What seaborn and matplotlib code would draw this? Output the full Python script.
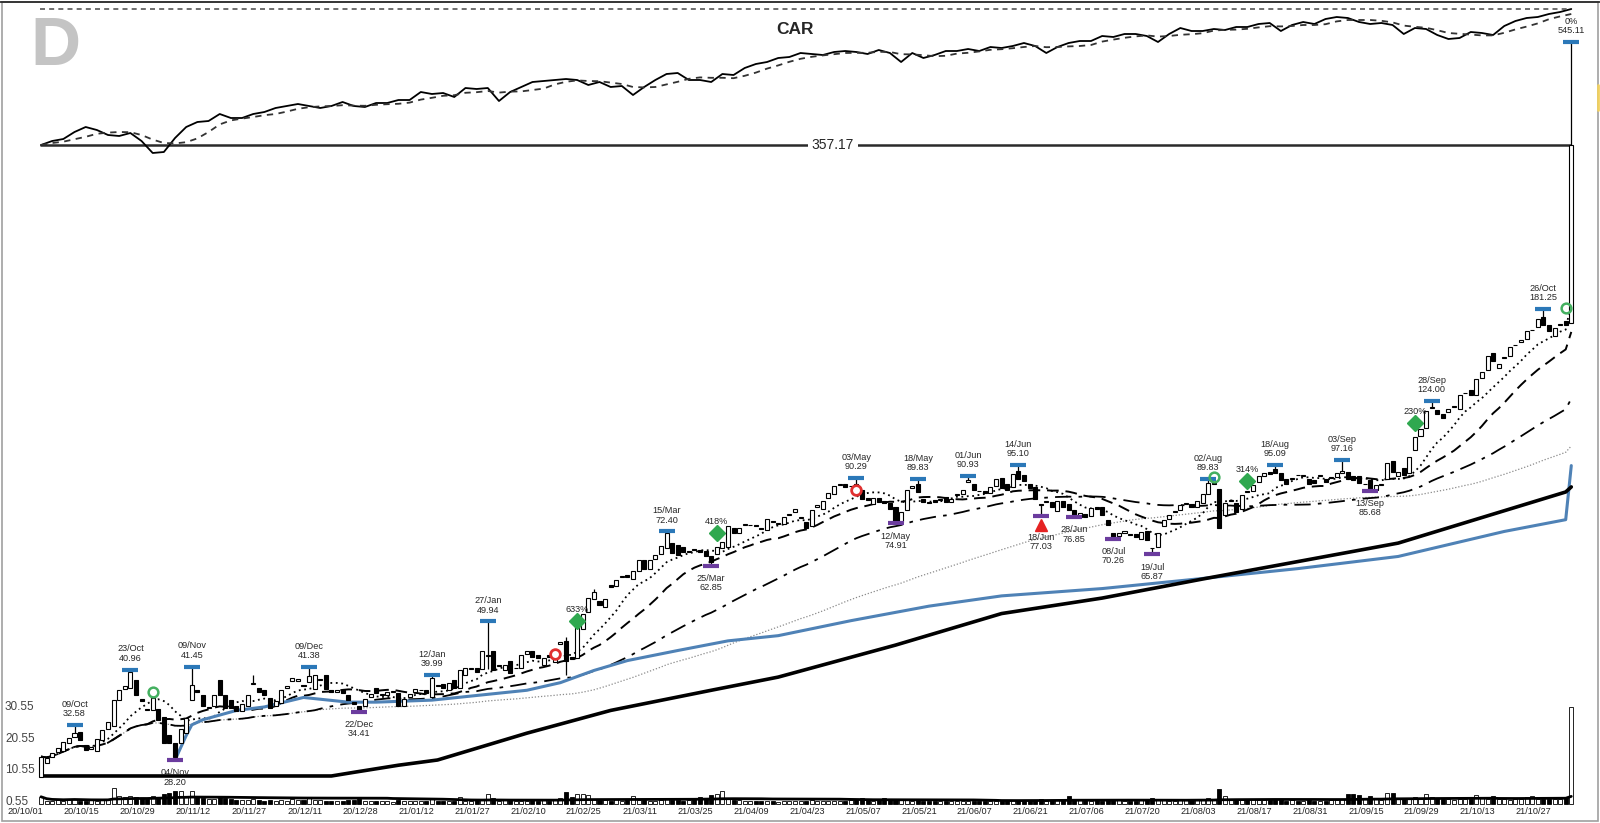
import numpy as np
import pandas as pd
import matplotlib
matplotlib.use("Agg")
import matplotlib.pyplot as plt
import matplotlib.transforms as mtrans
from matplotlib.patches import Rectangle
from matplotlib.lines import Line2D
import seaborn as sns

# ---------------- data ----------------
opens = [
    26.3, 27.8, 28.6, 29.2, 29.3, 30.3, 31.0, 31.6, 30.0, 29.5,
    29.3, 30.6, 32.0, 32.5, 36.1, 37.8, 38.0, 39.2, 36.3, 34.8,
    34.6, 34.8, 33.7, 31.2, 30.2, 30.2, 31.5, 36.1, 37.6, 36.8,
    35.0, 35.3, 39.2, 36.8, 36.1, 35.3, 34.5, 35.2, 38.6, 38.0,
    37.6, 36.4, 35.2, 35.7, 38.0, 39.0, 39.0, 38.4, 38.9, 37.8,
    39.2, 40.0, 37.6, 37.4, 37.6, 36.8, 35.8, 35.3, 35.3, 36.6,
    38.0, 36.8, 36.8, 37.3, 37.2, 35.3, 36.5, 37.4, 37.6, 37.7,
    36.5, 38.4, 38.6, 37.7, 39.2, 38.0, 40.0, 41.1, 41.2, 41.0,
    43.3, 44.3, 41.5, 40.9, 42.5, 41.2, 41.2, 43.6, 44.3, 43.4,
    41.8, 43.5, 42.3, 45.5, 46.1, 43.2, 43.0, 48.4, 52.0, 54.9,
    54.3, 53.0, 58.0, 57.8, 60.0, 60.4, 59.6, 61.4, 64.3, 61.9,
    64.5, 66.0, 67.5, 69.0, 68.5, 68.0, 66.6, 67.3, 67.0, 66.7,
    65.5, 66.0, 67.5, 68.0, 73.5, 72.0, 74.5, 74.2, 74.5, 73.5,
    72.7, 75.6, 74.8, 74.8, 77.4, 78.5, 76.5, 75.4, 74.0, 80.0,
    79.4, 83.0, 84.5, 87.6, 88.0, 87.2, 88.0, 86.0, 83.0, 81.0,
    83.0, 82.0, 81.5, 80.2, 75.4, 79.0, 86.5, 88.0, 82.6, 81.8,
    82.5, 82.4, 83.5, 81.8, 84.0, 84.5, 88.8, 88.0, 85.7, 85.5,
    85.0, 87.5, 90.2, 88.0, 87.0, 93.0, 91.5, 88.2, 87.0, 81.0,
    81.6, 81.6, 78.9, 82.0, 81.0, 79.0, 77.0, 77.8, 77.3, 80.0,
    80.2, 76.0, 72.0, 71.0, 72.0, 71.5, 71.6, 70.2, 72.4, 67.7,
    68.0, 74.0, 76.2, 78.6, 79.0, 81.0, 81.0, 80.2, 81.5, 84.5,
    88.0, 86.2, 77.5, 82.0, 81.5, 79.4, 85.5, 85.5, 88.8, 91.0,
    92.5, 93.5, 92.3, 90.0, 90.0, 91.5, 91.0, 89.8, 89.7, 91.0,
    89.8, 90.3, 90.6, 92.0, 92.6, 91.0, 91.0, 88.0, 89.5, 86.0,
    87.8, 90.0, 97.0, 91.0, 94.0, 92.0, 101.5, 107.5, 111.0, 120.5,
    119.5, 117.5, 118.3, 121.0, 120.0, 128.0, 129.5, 127.0, 136.5, 141.0,
    151.0, 142.0, 148.0, 149.0, 156.0, 158.0, 160.0, 166.0, 168.0, 175.5,
    170.0, 162.0, 170.0, 172.5, 171.0,
]
closes = [
    28.6, 28.4, 29.0, 29.6, 30.4, 30.9, 31.5, 30.6, 29.4, 29.8,
    30.7, 31.9, 33.0, 36.1, 37.6, 38.2, 40.5, 36.8, 35.9, 34.6,
    36.4, 33.2, 30.3, 30.2, 28.6, 32.0, 33.5, 38.4, 37.4, 35.3,
    35.1, 36.8, 36.8, 34.9, 35.0, 34.5, 35.5, 36.9, 38.8, 37.3,
    36.8, 35.0, 36.0, 37.6, 38.2, 39.6, 39.4, 38.3, 39.8, 40.0,
    39.4, 37.8, 37.4, 37.6, 37.2, 36.1, 35.5, 34.5, 36.3, 37.0,
    37.2, 37.0, 37.4, 37.5, 35.3, 36.3, 37.0, 37.8, 37.7, 37.2,
    39.5, 38.2, 37.9, 38.8, 38.0, 40.8, 41.2, 41.3, 40.6, 44.3,
    43.5, 40.8, 41.8, 41.7, 40.4, 41.3, 43.4, 44.3, 43.2, 43.0,
    43.0, 43.1, 44.3, 45.8, 42.5, 42.8, 48.8, 51.5, 55.0, 56.3,
    53.4, 54.8, 57.6, 59.3, 60.3, 60.0, 61.4, 64.3, 61.9, 64.3,
    65.8, 68.3, 72.0, 66.3, 65.8, 66.5, 66.8, 67.0, 66.6, 65.5,
    63.8, 68.0, 69.3, 74.0, 72.0, 73.5, 74.8, 74.5, 74.0, 73.2,
    76.2, 75.2, 75.0, 76.8, 77.7, 79.4, 76.8, 73.5, 79.0, 80.7,
    82.0, 84.7, 87.3, 88.0, 87.0, 87.5, 86.0, 82.6, 82.5, 83.0,
    81.8, 81.5, 79.4, 75.5, 78.6, 86.0, 87.5, 85.2, 81.8, 81.5,
    81.8, 82.6, 81.8, 82.8, 84.4, 86.0, 89.5, 86.0, 85.5, 84.8,
    87.0, 90.0, 86.7, 86.0, 91.8, 90.0, 89.2, 86.6, 82.6, 80.8,
    82.0, 80.0, 82.2, 80.2, 79.2, 77.0, 78.0, 77.0, 79.8, 79.4,
    77.6, 74.5, 70.6, 72.0, 72.4, 71.4, 70.8, 72.3, 70.0, 67.6,
    71.8, 75.9, 77.5, 78.9, 80.6, 81.3, 80.2, 82.2, 84.5, 88.5,
    88.5, 73.5, 81.4, 82.4, 78.6, 84.0, 85.2, 87.8, 91.0, 92.0,
    91.8, 92.0, 89.5, 88.0, 90.3, 91.3, 91.2, 88.2, 88.5, 91.3,
    88.8, 90.8, 92.0, 93.0, 90.0, 89.5, 88.5, 88.2, 86.2, 87.6,
    88.0, 96.0, 92.5, 92.5, 91.5, 98.5, 106.7, 110.3, 119.0, 121.0,
    117.5, 115.8, 120.0, 121.5, 127.3, 128.4, 127.3, 136.0, 140.0, 149.5,
    146.5, 144.5, 148.5, 155.0, 156.5, 159.5, 165.5, 166.5, 174.0, 170.0,
    165.5, 167.5, 170.5, 169.5, 357.17,
]
volumes = [
    2.2, 1.0, 0.9, 1.2, 1.0, 1.5, 1.6, 1.0, 0.8, 1.1,
    1.0, 1.3, 1.4, 5.0, 2.3, 2.0, 2.4, 2.1, 1.8, 1.6,
    2.5, 2.2, 3.2, 3.3, 4.1, 4.0, 2.6, 4.0, 2.0, 1.8,
    1.5, 1.6, 2.2, 1.8, 1.5, 1.2, 1.3, 1.1, 1.4, 1.2,
    1.0, 1.1, 1.0, 1.2, 0.9, 1.5, 1.2, 1.1, 1.8, 1.3,
    1.2, 1.0, 0.9, 0.8, 0.9, 1.1, 1.3, 1.6, 1.0, 0.8,
    0.9, 0.8, 1.0, 0.7, 1.2, 1.0, 0.8, 0.9, 1.0, 0.8,
    1.4, 1.0, 0.9, 0.8, 1.0, 2.0, 1.0, 0.9, 1.2, 1.3,
    3.0, 1.8, 1.0, 1.1, 1.3, 0.9, 1.0, 0.9, 1.1, 1.0,
    1.2, 1.0, 1.5, 1.8, 3.6, 2.0, 3.0, 3.1, 2.8, 1.5,
    1.2, 1.1, 1.0, 1.4, 1.0, 1.2, 2.6, 1.3, 1.1, 1.0,
    1.0, 1.2, 1.4, 1.3, 1.1, 1.0, 1.2, 1.4, 2.0, 1.6,
    2.8, 3.2, 4.0, 1.6, 1.2, 1.1, 1.0, 0.8, 0.9, 1.0,
    0.9, 0.8, 0.7, 0.9, 0.8, 0.8, 0.9, 1.0, 1.1, 0.8,
    0.9, 1.0, 0.8, 0.9, 1.0, 1.1, 1.4, 1.8, 1.2, 1.0,
    1.1, 1.7, 1.2, 1.5, 1.1, 1.2, 1.0, 1.1, 0.9, 1.0,
    0.9, 0.8, 0.9, 1.0, 0.8, 0.9, 1.0, 0.9, 0.8, 0.9,
    0.8, 0.9, 1.0, 0.9, 1.1, 1.2, 1.0, 1.1, 1.3, 1.6,
    1.0, 1.2, 1.3, 1.5, 2.6, 1.4, 1.2, 1.1, 1.0, 1.1,
    1.0, 1.2, 1.4, 1.1, 1.0, 0.9, 1.0, 1.2, 1.1, 1.8,
    1.4, 1.1, 1.0, 0.9, 1.1, 1.3, 1.2, 1.5, 1.6, 1.8,
    1.5, 4.7, 2.3, 1.6, 1.3, 1.5, 1.2, 1.4, 1.3, 1.2,
    1.1, 1.3, 1.2, 1.0, 1.1, 1.0, 0.9, 1.2, 1.0, 0.9,
    1.0, 1.1, 1.2, 1.4, 3.0, 3.1, 2.9, 1.8, 2.3, 1.5,
    1.3, 3.5, 3.4, 1.6, 1.4, 1.5, 2.0, 1.8, 3.0, 2.0,
    1.7, 1.5, 1.4, 1.3, 1.5, 1.4, 1.6, 2.7, 1.8, 1.5,
    2.5, 1.6, 1.4, 1.3, 1.5, 1.4, 2.0, 2.3, 1.5, 1.6,
    1.4, 1.5, 1.6, 2.2, 30.5,
]
# relative strength (CAR) line, one reading every second session
car_values = [
    0, 4, 6, 13, 18, 15, 10, 9, 12, 4,
    -8, -7, 7, 18, 23, 24, 31, 27, 27, 31,
    33, 37, 39, 41, 39, 37, 39, 43, 39, 38,
    42, 42, 45, 45, 53, 51, 52, 48, 57, 56,
    57, 44, 53, 58, 63, 64, 65, 66, 65, 60,
    63, 58, 59, 50, 58, 65, 71, 72, 65, 65,
    63, 71, 70, 77, 81, 83, 87, 88, 92, 91,
    90, 93, 94, 93, 91, 95, 92, 83, 92, 87,
    90, 94, 94, 96, 94, 98, 97, 99, 102, 99,
    92, 98, 102, 104, 104, 109, 108, 111, 111, 109,
    103, 111, 117, 114, 114, 116, 115, 118, 118, 121,
    122, 114, 120, 123, 121, 126, 128, 127, 123, 121,
    122, 120, 111, 117, 116, 110, 106, 107, 113, 112,
    110, 119, 124, 127, 128, 131, 133, 136,
]
peaks = [
    (6, "09/Oct", 32.58), (16, "23/Oct", 40.96), (27, "09/Nov", 41.45),
    (48, "09/Dec", 41.38), (70, "12/Jan", 39.99), (80, "27/Jan", 49.94),
    (112, "15/Mar", 72.40), (146, "03/May", 90.29), (157, "18/May", 89.83),
    (166, "01/Jun", 90.93), (175, "14/Jun", 95.10), (209, "02/Aug", 89.83),
    (221, "18/Aug", 95.09), (233, "03/Sep", 97.16), (249, "28/Sep", 124.00),
    (269, "26/Oct", 181.25), (274, "0%", 545.11),
]
troughs = [
    (24, "04/Nov", 28.20), (57, "22/Dec", 34.41), (120, "25/Mar", 62.85),
    (153, "12/May", 74.91), (179, "18/Jun", 77.03), (185, "28/Jun", 76.85),
    (192, "08/Jul", 70.26), (199, "19/Jul", 65.87), (238, "13/Sep", 85.68),
]
extra_highs = {38: 40.0, 94: 46.8, 99: 57.0}
extra_lows = {80: 41.0, 94: 40.0}
blue_idx = [24, 26, 27, 29, 35, 40, 47, 55, 60, 70, 78, 87, 93, 99, 105, 114,
            123, 132, 145, 159, 172, 190, 207, 225, 243, 262, 273, 274]
blue_val = [28.2, 31.2, 32.6, 33.3, 34.6, 35.1, 36.5, 35.8, 35.8, 36.1, 36.8,
            37.6, 38.8, 40.8, 42.5, 44.3, 46.1, 47.1, 50.1, 53.2, 55.5, 57.2,
            59.5, 62.1, 65.3, 72.4, 76.0, 95.0]
long_ma_idx = [0, 52, 56, 64, 71, 87, 102, 120, 132, 153, 172, 190, 208, 226,
               243, 273, 274]
long_ma_val = [26.4, 26.4, 26.8, 27.6, 28.2, 31.5, 34.6, 37.6, 39.7, 45.3,
               51.6, 55.0, 59.5, 64.2, 69.0, 85.2, 87.0]
signals = [(96, 50.0, "633%"), (121, 71.9, "418%"), (216, 89.1, "314%"),
           (246, 113.3, "230%")]
red_rings = [(92, 43.7), (146, 85.9)]
green_rings = [(20, 37.3), (210, 90.6), (273, 182.0)]
warnings = [(179, 74.4)]
tick_labels = ["20/10/01", "20/10/15", "20/10/29", "20/11/12", "20/11/27",
               "20/12/11", "20/12/28", "21/01/12", "21/01/27", "21/02/10",
               "21/02/25", "21/03/11", "21/03/25", "21/04/09", "21/04/23",
               "21/05/07", "21/05/21", "21/06/07", "21/06/21", "21/07/06",
               "21/07/20", "21/08/03", "21/08/17", "21/08/31", "21/09/15",
               "21/09/29", "21/10/13", "21/10/27"]
vol_levels = [0.55, 10.55, 20.55, 30.55]

# ---------------- layout (pixels of a 1600x823 canvas) ----------------
W, H = 1600, 823
X0, DX = 41, 5.585            # first session x, px per session
REF_Y, REF_P, K = 760, 28.2, 242.4   # log price scale
CAR_Y0 = 145                  # CAR zero line
VOL_Y0, VK = 802, 3.167       # volume scale

sns.set_theme(style="white")
plt.rcParams["font.family"] = ["Liberation Sans", "DejaVu Sans"]

fig = plt.figure(figsize=(W / 100, H / 100), dpi=100)
ax_vol = fig.add_axes([0, 0, 1, 1])
ax = fig.add_axes([0, 0, 1, 1])
ax_car = fig.add_axes([0, 0, 1, 1])
xlim = ((0 - X0) / DX, (W - X0) / DX)
for a in (ax_vol, ax, ax_car):
    a.set_xlim(*xlim)
    a.axis("off")
ax.patch.set_visible(False)
ax_car.patch.set_visible(False)
ax_vol.set_facecolor("white")

ax.set_yscale("log")
ax.set_ylim(REF_P * np.exp(-(H - REF_Y) / K), REF_P * np.exp(REF_Y / K))
ax_car.set_ylim(CAR_Y0 - H, CAR_Y0)
ax_vol.set_ylim(0.55 - (H - VOL_Y0) / VK, 0.55 + VOL_Y0 / VK)

o = np.array(opens)
c = np.array(closes)
n = len(c)
idx = np.arange(n)
up = c >= o
highs = np.maximum(o, c)
lows = np.minimum(o, c)
for i, _, v in peaks:
    highs[i] = max(highs[i], v)
for i, v in extra_highs.items():
    highs[i] = max(highs[i], v)
for i, _, v in troughs:
    lows[i] = min(lows[i], v)
for i, v in extra_lows.items():
    lows[i] = min(lows[i], v)

# moving averages
s = pd.Series(c)
sma10 = s.rolling(10, min_periods=1).mean()
sma20 = s.rolling(20, min_periods=1).mean()
sma50 = s.rolling(50, min_periods=1).mean()
sma100 = s.rolling(100, min_periods=1).mean()
ax.plot(idx, sma100, color="#8a8a8a", lw=0.9, ls=(0, (1, 1.5)), zorder=2)
ax.plot(idx, sma50, color="black", lw=1.3, ls=(0, (9, 4, 2, 4)), zorder=2)
ax.plot(idx, sma20, color="black", lw=1.4, ls=(0, (6, 3.5)), zorder=2)
ax.plot(idx, sma10, color="black", lw=1.3, ls=(0, (1, 2)), zorder=2)
sns.lineplot(x=blue_idx, y=blue_val, ax=ax, color="#4f82b6", lw=2.2, zorder=2)
sns.lineplot(x=long_ma_idx, y=long_ma_val, ax=ax, color="black", lw=2.6, zorder=2)

# last price line with label
ax.hlines(c[-1], -0.2, n - 1, color="#2a2a2a", lw=1.8, zorder=1)
ax.text(141.8, c[-1], f"{c[-1]:.2f}", ha="center", va="center", fontsize=10,
        bbox=dict(facecolor="white", edgecolor="none", pad=3), zorder=3)

# candles
ax.vlines(idx, lows, highs, color="black", lw=0.9, zorder=3)
ax.bar(idx, np.abs(c - o), bottom=np.minimum(o, c), width=0.72,
       color=np.where(up, "white", "black"), edgecolor="black", linewidth=0.8,
       zorder=4)

# swing highs / lows
for i, lab, v in peaks:
    ax.plot(i, v, marker="_", ms=11, mew=3, color="#2b78b8", zorder=5)
    ax.annotate(f"{lab}\n{v:.2f}", (i, v), xytext=(0, 5), textcoords="offset points",
                ha="center", va="bottom", fontsize=6.6, linespacing=1.05, zorder=6)
warn_set = {i for i, _ in warnings}
for i, lab, v in troughs:
    ax.plot(i, v, marker="_", ms=11, mew=3, color="#6b3c9e", zorder=5)
    dy = -12 if i in warn_set else -6
    ax.annotate(f"{lab}\n{v:.2f}", (i, v), xytext=(0, dy), textcoords="offset points",
                ha="center", va="top", fontsize=6.6, linespacing=1.05, zorder=6)

for i, v, lab in signals:
    ax.plot(i, v, marker="D", ms=8, color="#2fa84f", mec="#2fa84f", zorder=6)
    ax.annotate(lab, (i, v), xytext=(0, 5), textcoords="offset points",
                ha="center", va="bottom", fontsize=6.6, zorder=6)
for i, v in red_rings:
    ax.plot(i, v, marker="o", ms=7, mfc="white", mec="#e03030", mew=2, zorder=6)
for i, v in green_rings:
    ax.plot(i, v, marker="o", ms=7, mfc="none", mec="#44b060", mew=1.8, zorder=6)
for i, v in warnings:
    ax.plot(i, v, marker="^", ms=9, color="#e52222", zorder=6)

# CAR panel
car_idx = np.arange(0, n, 2)[:len(car_values)]
car_ma = pd.Series(car_values).rolling(5, min_periods=1).mean()
sns.lineplot(x=car_idx, y=car_values, ax=ax_car, color="black", lw=1.3)
ax_car.plot(car_idx, car_ma, color="#333333", lw=1.3, ls=(0, (3.5, 3)))
ax_car.hlines(max(car_values), -0.2, n - 1, color="#555555", lw=1.2,
              linestyles=(0, (3, 2.5)))
fig.text(795 / W, 1 - 29 / H, "CAR", ha="center", va="center", fontsize=12.5,
         weight="bold")
fig.text(30 / W, 1 - 47 / H, "D", ha="left", va="center", fontsize=50,
         weight="bold", color="#c4c4c4")

# volume
v = np.array(volumes)
ax_vol.bar(idx, v, width=0.72, color=np.where(up, "white", "black"),
           edgecolor="black", linewidth=0.6, zorder=2)
vol_ma = pd.Series(v).rolling(50, min_periods=1).mean()
ax_vol.plot(idx, vol_ma, color="black", lw=2.0, zorder=3)
tr_v = mtrans.blended_transform_factory(ax_vol.transAxes, ax_vol.transData)
for lv in vol_levels:
    ax_vol.text(5 / W, lv, f"{lv:.2f}", transform=tr_v, ha="left", va="center",
                fontsize=8.5, color="#444444")

# date labels every 10 sessions
tr_x = mtrans.blended_transform_factory(ax.transData, ax.transAxes)
for k, lab in enumerate(tick_labels):
    ax.text(k * 10 + 0.4, 1 - 811 / H, lab, transform=tr_x, ha="right",
            va="center", fontsize=6.6, color="#222222")

# frame
fig.add_artist(Rectangle((2 / W, 2 / H), (W - 4) / W, (H - 4) / H,
                         transform=fig.transFigure, fill=False,
                         edgecolor="#a0a0a0", lw=1.2))
fig.add_artist(Line2D([0, 1], [1 - 2 / H, 1 - 2 / H], transform=fig.transFigure,
                      color="#222222", lw=1.2))
fig.add_artist(Line2D([1 - 2 / W, 1 - 2 / W], [1 - 85 / H, 1 - 110 / H],
                      transform=fig.transFigure, color="#f0d060", lw=2))

fig.savefig("out.png", dpi=100)
